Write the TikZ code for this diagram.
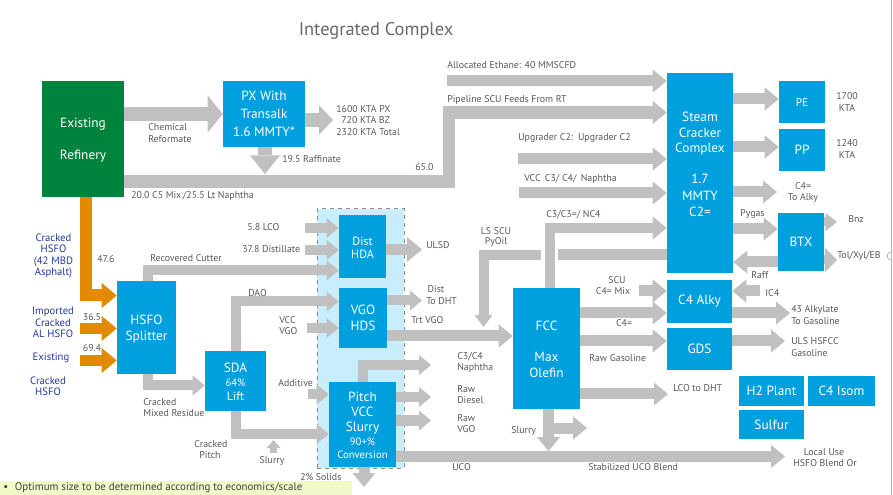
\documentclass[tikz,border=0pt]{standalone}
\usepackage{fontspec}
\setmainfont{PT Sans}
\usetikzlibrary{arrows.meta,fit}
\definecolor{cb}{RGB}{0,160,223}
\definecolor{ag}{RGB}{192,192,192}
\definecolor{gr}{RGB}{0,132,61}
\definecolor{org}{RGB}{228,138,0}
\definecolor{lb}{RGB}{200,237,252}
\definecolor{tg}{RGB}{90,90,90}
\definecolor{nv}{RGB}{35,60,155}
\definecolor{nt}{RGB}{240,250,200}
\definecolor{ttl}{RGB}{105,105,105}
\tikzset{
  box/.style={fill=cb, inner sep=0pt, text=white, font=\fontsize{10}{13}\selectfont, align=center},
  bt/.style={text=white, inner sep=0pt, font=\fontsize{10}{12}\selectfont},
  bts/.style={text=white, inner sep=0pt, font=\fontsize{8}{10}\selectfont},
  lbl/.style={text=tg, inner sep=0pt, anchor=west, font=\fontsize{7.4}{9}\selectfont},
  lblc/.style={lbl, anchor=center},
  nl/.style={text=nv, inner sep=0pt, align=center, font=\fontsize{8}{8.5}\selectfont},
  aS/.style={draw=ag, line width=8.25pt, -{Triangle[width=17.25pt,length=10.5pt,line width=0pt]}},
  aT/.style={draw=ag, line width=7.5pt, -{Triangle[width=15pt,length=9pt,line width=0pt]}},
  aM/.style={draw=ag, line width=10.5pt, -{Triangle[width=22pt,length=10.5pt,line width=0pt]}},
  aL/.style={draw=ag, line width=10.5pt, -{Triangle[width=27.75pt,length=11.25pt,line width=0pt]}},
  oA/.style={draw=org, line width=9pt, -{Triangle[width=18.75pt,length=11.25pt,line width=0pt]}},
}
\begin{document}
\begin{tikzpicture}[x=0.75pt,y=-0.75pt]
\useasboundingbox (0,0) rectangle (893,495);
\clip (0,0) rectangle (893,495);
\fill[white] (0,0) rectangle (893,495);
\draw[gray!55, line width=0.75pt] (891.5,0) -- (891.5,495);
\draw[gray!60, line width=0.6pt] (891,252) .. controls (886,252) and (886,260) .. (891,260);

% title
\node[text=ttl, font=\fontsize{13.8}{16}\selectfont, inner sep=0] (title) at (376,31) {Integrated Complex};

% dashed group
\node[fit={(317,209)(404,468)}, inner sep=0pt, fill=lb, draw=gray!90, dashed, line width=0.75pt] (grp) {};

% ---------- boxes (placed first to get anchors, filled on top later) ----------
\node[box, fill=gr, fit={(42,81)(124,197)}] (ref) {};
\node[box, fit={(223,81)(305,147)}] (px) {};
\node[box, fit={(667,73)(733,273)}] (sc) {};
\node[box, fit={(779,81)(825,123)}] (pe) {};
\node[box, fit={(779,129)(825,171)}] (pp) {};
\node[box, fit={(778,213)(824,271)}] (btx) {};
\node[box, fit={(667,280)(732,323)}] (alky) {};
\node[box, fit={(667,328)(732,370)}] (gds) {};
\node[box, fit={(513,288)(580,409)}] (fcc) {};
\node[box, fit={(739,376)(804,406)}] (h2) {};
\node[box, fit={(808,376)(875,406)}] (isom) {};
\node[box, fit={(739,410)(804,439)}] (sulf) {};
\node[box, fit={(339,215)(386,278)}] (dhda) {};
\node[box, fit={(339,288)(387,348)}] (vhds) {};
\node[box, fit={(117,281)(176,374)}] (hsfo) {};
\node[box, fit={(205,351)(266,411)}] (sda) {};
\node[box, fit={(329,382)(396,467)}] (pitch) {};

% ---------- arrows ----------
\draw[aL] (ref.east|-0,114) -- (px.west|-0,114);
\draw[aM] (px.east|-0,120) -- (333,120);
\draw[aM, -{Triangle[width=22.5pt,length=14pt,line width=0pt]}] (px.south-|265,0) -- (265,174);
\draw[aS, line width=9.5pt] (ref.east|-0,181.5) -- (449,181.5) -- (449,112.5) -- (sc.west|-0,112.5);
\draw[aS] (447,81) -- (sc.west|-0,81);
\draw[aS] (518,159) -- (sc.west|-0,159);
\draw[aS] (519,193) -- (sc.west|-0,193);
\draw[aS, line width=7.5pt] (fcc.north-|550,0) -- (550,228) -- (sc.west|-0,228);
\draw[aS, -] (558,255) -- (sc.west|-0,255);
\draw[aT, -{Triangle[width=13.5pt,length=9pt,line width=0pt]}] (541,255) -- (483.5,255) -- (483.5,327);

\draw[aS] (sc.east|-0,99) -- (pe.west|-0,99);
\draw[aS] (sc.east|-0,147) -- (pp.west|-0,147);
\draw[aS] (sc.east|-0,192) -- (777,192);
\draw[aS] (sc.east|-0,229) -- (btx.west|-0,229);
\draw[aS] (btx.west|-0,262) -- (sc.east|-0,262);
\draw[aT, line width=6.75pt, -{Triangle[width=13.5pt,length=8.5pt,line width=0pt]}] (btx.east|-0,222) -- (837,222);
\draw[aT, line width=6.75pt, -{Triangle[width=18pt,length=9pt,line width=0pt]}] (btx.east|-0,260) -- (837,260);

\draw[aS] (639,291) -- (alky.west|-0,291);
\draw[aS] (fcc.east|-0,313) -- (alky.west|-0,313);
\draw[aS] (760,291) -- (alky.east|-0,291);
\draw[aS] (alky.east|-0,313) -- (790,313);
\draw[aS] (fcc.east|-0,341) -- (gds.west|-0,341);
\draw[aS] (gds.east|-0,341) -- (785,341);
\draw[aS] (fcc.east|-0,394) -- (668,394);
\draw[aS] (fcc.south-|548.5,0) -- (548.5,451);
\draw[aS] (548.5,428) -- (587,428);
\draw[aS] (pitch.east|-0,456.5) -- (785,456.5);

\draw[oA] (ref.south-|85.5,0) -- (85.5,295.5) -- (hsfo.west|-0,295.5);
\draw[oA, line width=8.25pt] (80,328.5) -- (hsfo.west|-0,328.5);
\draw[oA, line width=8.25pt] (80,360.5) -- (hsfo.west|-0,360.5);

\draw[aT] (hsfo.north-|147.5,0) -- (147.5,270.5) -- (dhda.west|-0,270.5);
\draw[aT] (305,228) -- (dhda.west|-0,228);
\draw[aT] (305,250) -- (dhda.west|-0,250);
\draw[aT] (sda.north-|236,0) -- (236,301.5) -- (vhds.west|-0,301.5);
\draw[aT] (307,328) -- (vhds.west|-0,328);
\draw[aS, -{Triangle[width=18.75pt,length=11.25pt,line width=0pt]}] (dhda.east|-0,249.5) -- (422,249.5);
\draw[aT] (vhds.east|-0,300.5) -- (422,300.5);
\draw[aS] (vhds.east|-0,336) -- (fcc.west|-0,336);
\draw[aT] (hsfo.south-|148,0) -- (148,385.5) -- (sda.west|-0,385.5);
\draw[aT] (sda.south-|236,0) -- (236,434) -- (pitch.west|-0,434);
\draw[aT, line width=5pt, -{Triangle[width=10.5pt,length=6pt,line width=0pt]}] (273.5,453) -- (273.5,440);
\draw[aT] (308,394.5) -- (pitch.west|-0,394.5);
\draw[aT] (pitch.north-|362.5,0) -- (362.5,365) -- (431,365);
\draw[aT] (pitch.east|-0,397) -- (431,397);
\draw[aT] (pitch.east|-0,420.5) -- (431,420.5);
\draw[aS] (pitch.south-|364,0) -- (364,487);

% ---------- boxes filled on top ----------
\fill[gr] (ref.south west) rectangle (ref.north east);
\foreach \b in {px,sc,pe,pp,btx,alky,gds,fcc,h2,isom,sulf,dhda,vhds,hsfo,sda,pitch}
  \fill[cb] (\b.south west) rectangle (\b.north east);

% box texts
\node[bt] at (83,124) {Existing};
\node[bt] at (83,156) {Refinery};
\node[box, fill=none, font=\fontsize{10}{13.5}\selectfont] at (px.center) {PX With\\Transalk\\1.6 MMTY*};
\node[bt] at (700,117) {Steam};
\node[bt] at (700,133) {Cracker};
\node[bt] at (700,149) {Complex};
\node[bt] at (700,179) {1.7};
\node[bt] at (700,196) {MMTY};
\node[bt] at (700,212) {C2=};
\node[bts, font=\fontsize{8.5}{10}\selectfont] at (pe.center) {PE};
\node[bt] at (pp.center) {PP};
\node[bt] at (btx.center) {BTX};
\node[bt] at (alky.center) {C4 Alky};
\node[bt] at (gds.center) {GDS};
\node[bt] at (546.5,326) {FCC};
\node[bt] at (546.5,357) {Max};
\node[bt] at (546.5,373) {Olefin};
\node[bt] at (h2.center) {H2 Plant};
\node[bt] at (isom.center) {C4 Isom};
\node[bt] at (sulf.center) {Sulfur};
\node[bts, font=\fontsize{9}{10}\selectfont] at (362.5,241) {Dist};
\node[bts, font=\fontsize{9}{10}\selectfont] at (362.5,254) {HDA};
\node[bt] at (363,310) {VGO};
\node[bt] at (363,326) {HDS};
\node[bt] at (146.5,320) {HSFO};
\node[bt] at (146.5,337) {Splitter};
\node[bt] at (235.5,368) {SDA};
\node[bts] at (235.5,383) {64\%};
\node[bts, font=\fontsize{9}{10}\selectfont] at (235.5,396) {Lift};
\node[bt] at (362.5,397) {Pitch};
\node[bt] at (362.5,412) {VCC};
\node[bt] at (362.5,428) {Slurry};
\node[bts] at (362.5,442) {90+\%};
\node[bts] at (362.5,455) {Conversion};

% ---------- labels ----------
\node[lbl] at (148,127) {Chemical};
\node[lbl] at (148,139) {Reformate};
\node[lbl] at (336,109) {1600 KTA PX};
\node[lbl] at (341,120) {720 KTA BZ};
\node[lbl] at (336,132) {2320 KTA Total};
\node[lbl] at (282,159) {19.5 Raffinate};
\node[lbl] at (415,167) {65.0};
\node[lbl] at (131,196) {20.0 C5 Mix\,/25.5 Lt Naphtha};
\node[lbl] at (447,65) {Allocated Ethane: 40 MMSCFD};
\node[lbl] at (447,100) {Pipeline SCU Feeds From RT};
\node[lbl] at (518,138) {Upgrader C2:\enspace Upgrader C2};
\node[lbl] at (524,179) {VCC\, C3/ C4/\, Naphtha};
\node[lbl] at (546,215) {C3/C3=/ NC4};
\node[lblc] at (496,231) {LS SCU};
\node[lblc] at (496,242) {PyOil};
\node[lblc] at (847,96) {1700};
\node[lblc] at (847,108) {KTA};
\node[lblc] at (847,143) {1240};
\node[lblc] at (847,155) {KTA};
\node[lblc] at (803,186) {C4=};
\node[lblc] at (803,198) {To Alky};
\node[lbl] at (740,214) {Pygas};
\node[lbl] at (848,219) {Bnz};
\node[lbl] at (837,256) {Tol/Xyl/EB};
\node[lbl] at (751,275) {Raff};
\node[lbl] at (765,293) {IC4};
\node[lblc] at (617,280) {SCU};
\node[lblc] at (613,291) {C4= Mix};
\node[lblc] at (624,323) {C4=};
\node[lbl] at (791,310) {43 Alkylate};
\node[lbl] at (791,321) {To Gasoline};
\node[lbl] at (791,341) {ULS HSFCC};
\node[lbl] at (791,353) {Gasoline};
\node[lbl] at (589,358) {Raw Gasoline};
\node[lbl] at (673,388) {LCO to DHT};
\node[lbl] at (511,431) {Slurry};
\node[lbl] at (452,467) {UCO};
\node[lbl] at (588,467) {Stabilized UCO Blend};
\node[lblc] at (824,452) {Local Use};
\node[lblc] at (825,463) {HSFO Blend Or};
\node[lbl] at (457,357) {C3/C4};
\node[lbl] at (457,368) {Naphtha};
\node[lbl] at (457,389) {Raw};
\node[lbl] at (457,400) {Diesel};
\node[lbl] at (457,418) {Raw};
\node[lbl] at (457,429) {VGO};
\node[lbl] at (247,227) {5.8 LCO};
\node[lbl] at (242,249) {37.8 Distillate};
\node[lbl] at (150,258) {Recovered Cutter};
\node[lbl] at (248,293) {DAO};
\node[lbl] at (279,320) {VCC};
\node[lbl] at (279,331) {VGO};
\node[lbl] at (426,245) {ULSD};
\node[lblc] at (436,289) {Dist};
\node[lbl] at (426,301) {To DHT};
\node[lbl] at (411,320) {Trt VGO};
\node[lbl] at (97,259) {47.6};
\node[lblc] at (92,317) {36.5};
\node[lblc] at (92,348) {69.4};
\node[lbl] at (143,402) {Cracked};
\node[lbl] at (143,413) {Mixed Residue};
\node[lblc] at (211,444) {Cracked};
\node[lblc] at (210,455) {Pitch};
\node[lblc] at (272,461) {Slurry};
\node[lbl] at (278,383) {Additive};
\node[lbl] at (300,477) {2\% Solids};

\node[nl] at (53.5,256) {Cracked\\HSFO\\(42 MBD\\Asphalt)};
\node[nl] at (53,322.5) {Imported\\Cracked\\AL HSFO};
\node[nl] at (51,358) {Existing};
\node[nl] at (48,386.5) {Cracked\\HSFO};

% note
\fill[nt] (0,481) rectangle (352,495);
\node[anchor=west, inner sep=0, text=black!75, font=\fontsize{8.2}{10}\selectfont] (note) at (3,488) {\textbullet\hspace{5pt}Optimum size to be determined according to economics/scale};
\end{tikzpicture}
\end{document}
